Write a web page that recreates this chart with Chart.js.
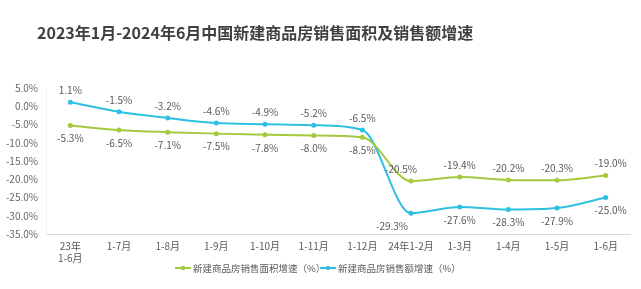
<!DOCTYPE html>
<html><head><meta charset="utf-8">
<script src="https://cdn.jsdelivr.net/npm/chart.js@4"></script>
<style>html,body{margin:0;padding:0;background:#fff;}#wrap{width:641px;height:289px;}</style>
</head><body><div id="wrap"><canvas id="c" width="641" height="289"></canvas></div>
<script>
const titleText = '2023年1月-2024年6月中国新建商品房销售面积及销售额增速';
const categories = [['23年','1-6月'],'1-7月','1-8月','1-9月','1-10月','1-11月','1-12月','24年1-2月','1-3月','1-4月','1-5月','1-6月'];
const areaGrowth = [-5.3,-6.5,-7.1,-7.5,-7.8,-8.0,-8.5,-20.5,-19.4,-20.2,-20.3,-19.0];
const salesGrowth = [1.1,-1.5,-3.2,-4.6,-4.9,-5.2,-6.5,-29.3,-27.6,-28.3,-27.9,-25.0];
const seriesNames = ['新建商品房销售面积增速（%）','新建商品房销售额增速（%）'];
const GREEN = '#a6c83c', BLUE = '#2ec0e2', TXT = '#595959';
const FONT = '"Noto Sans CJK SC","Noto Sans",sans-serif';

const extras = {
  id:'extras',
  afterDraw(chart){
    const ctx = chart.ctx;
    ctx.save();
    // title
    ctx.fillStyle = '#404040';
    ctx.font = 'bold 16px ' + FONT;
    ctx.textBaseline = 'middle';
    ctx.textAlign = 'left';
    ctx.fillText(titleText, 37, 33);
    // data labels
    ctx.font = '10px ' + FONT;
    ctx.fillStyle = TXT;
    ctx.textAlign = 'center';
    chart.data.datasets.forEach((ds, di) => {
      const meta = chart.getDatasetMeta(di);
      meta.data.forEach((pt, i) => {
        const isBlue = di === 1;
        let above = isBlue ? i < 7 : i >= 7;
        let dx = 0;
        if (i === 7) dx = isBlue ? -19 : -10;
        if (i === 11) dx = 5;
        const dy = above ? -12 : 13;
        ctx.fillText(ds.data[i].toFixed(1) + '%', pt.x + dx, pt.y + dy);
      });
    });
    // legend
    const items = [{x:175, c:GREEN, t:seriesNames[0]},{x:320, c:BLUE, t:seriesNames[1]}];
    const ly = 268;
    ctx.font = '9.5px ' + FONT;
    ctx.textAlign = 'left';
    items.forEach(it => {
      ctx.strokeStyle = it.c; ctx.lineWidth = 2;
      ctx.beginPath(); ctx.moveTo(it.x, ly); ctx.lineTo(it.x + 16, ly); ctx.stroke();
      ctx.fillStyle = it.c;
      ctx.beginPath(); ctx.arc(it.x + 8, ly, 2.2, 0, Math.PI*2); ctx.fill();
      ctx.fillStyle = TXT;
      ctx.fillText(it.t, it.x + 18, ly + 0.5);
    });
    ctx.restore();
  }
};

new Chart(document.getElementById('c'), {
  type:'line',
  data:{
    labels: categories,
    datasets:[
      {label:seriesNames[0], data:areaGrowth, borderColor:GREEN, backgroundColor:GREEN, borderWidth:2, pointRadius:2.5, pointBorderWidth:0, cubicInterpolationMode:'monotone'},
      {label:seriesNames[1], data:salesGrowth, borderColor:BLUE, backgroundColor:BLUE, borderWidth:2, pointRadius:2.5, pointBorderWidth:0, cubicInterpolationMode:'monotone'}
    ]
  },
  options:{
    responsive:false, animation:false, devicePixelRatio:1,
    layout:{padding:{top:88,right:11,left:0,bottom:0}},
    plugins:{legend:{display:false}, title:{display:false}, tooltip:{enabled:false}},
    scales:{
      x:{
        offset:true,
        grid:{display:false, drawTicks:false},
        border:{display:true, color:'#d9d9d9', width:1},
        ticks:{color:TXT, font:{size:10, family:FONT}, padding:6, maxRotation:0, autoSkip:false},
        afterFit(s){ s.height = 55; }
      },
      y:{
        min:-35, max:5,
        grid:{display:false, drawTicks:false},
        border:{display:true, color:'#f0f0f0', width:1},
        ticks:{stepSize:5, color:'#666666', font:{size:10, family:FONT}, padding:8, callback:v=>v.toFixed(1)+'%'},
        afterFit(s){ s.width = 46; }
      }
    }
  },
  plugins:[extras]
});
</script></body></html>
